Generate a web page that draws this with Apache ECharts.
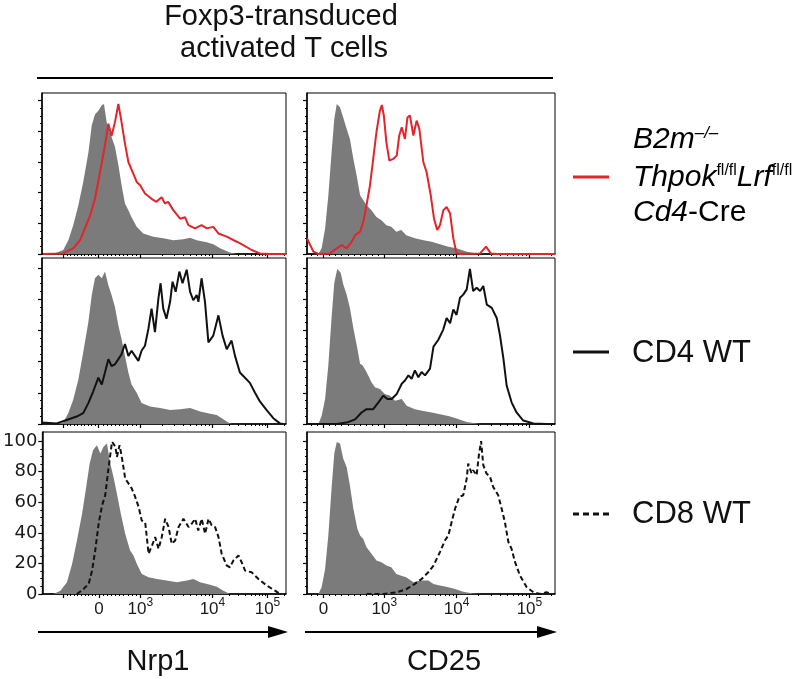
<!DOCTYPE html>
<html><head><meta charset="utf-8">
<script src="https://cdn.jsdelivr.net/npm/echarts@6/dist/echarts.min.js"></script>
<style>html,body{margin:0;padding:0;background:#fff}#c{width:800px;height:679px}</style>
</head><body><div id="c"></div>
<script>
// x = position along the logicle display axis (% of axis width), y = % of max
const nrp1IsoA = [[4.6,0],[8.7,2.6],[10.8,9],[12.8,18.8],[14.9,31.8],[16.9,47],[19,66],[20.4,84],[21.7,91],[23.1,93.5],[24.5,97],[25.4,97.8],[26.5,86],[27.9,79],[29.9,70],[31.3,58],[32.6,45],[34,33],[35.4,28.6],[36.7,24],[38.8,17.7],[41.5,13.4],[45.6,11.3],[49.7,10.2],[53.8,9],[57.9,9.7],[60.7,10.6],[63.4,9],[67.5,7.6],[70.2,6.3],[73,3.7],[77,0.9],[79.8,0]];
const nrp1Dko = [[0.5,0],[8.7,0.4],[12.8,3.7],[15.6,9],[17.6,16.7],[19.7,25],[21.7,36],[23.8,53.5],[25.8,70.8],[27.2,85],[28.5,77],[29.9,86],[31.3,97.8],[32.6,86],[34,72],[35.4,60],[37.4,52.4],[38.8,47],[40.2,44.8],[42.2,39.4],[44.9,36],[46.9,34],[49,37],[50.4,33],[51.7,34],[53.8,28.6],[56.6,23],[58.6,24],[60,18.8],[62.7,16.7],[65.4,18.8],[67.5,16.7],[70.2,17.7],[72.3,13.4],[75.7,11.3],[79.8,8],[82.5,5.8],[85.9,2.6],[89.3,0.4],[93.4,0],[100,0]];
const cd25IsoA = [[4.6,0],[5.9,3.7],[7.3,16.7],[8.6,38],[9.9,66],[11,88],[12,97.8],[13.3,95.7],[14.6,89],[16,81.6],[17.3,75],[18.7,62],[20,51.3],[21.4,38.3],[22.7,35],[24,31.8],[26,28.6],[28,24.2],[30,22],[32,18.8],[34,17.7],[36,14.5],[38,15.6],[40,12.3],[43.5,10.2],[47,9],[50.3,8],[53.6,6.3],[57,4.8],[60.3,3.7],[64.4,1.5],[68.4,0.4],[72.4,0]];
const cd25Dko = [[0,10.2],[0.8,9.7],[2.6,1.5],[4.6,0],[9.3,0.4],[12,3.7],[14,5.8],[16,3.7],[18,8],[19.4,12.3],[21.4,14.5],[22.7,21],[24,31.8],[25.4,44.8],[26.7,62],[28,79.4],[29.4,93.5],[30.2,97.2],[31,90],[32,73],[33.2,61],[34.8,62],[36.2,64.3],[37.2,77.3],[38.2,82.7],[39.5,75],[40.5,89],[41.5,90.3],[42.9,77.3],[44.2,87],[45.3,81.6],[46.9,60],[48.2,53.5],[49.9,38.3],[51.2,23.2],[52.5,15.6],[53.6,18.8],[55,28.6],[56.3,30.7],[57.7,26.4],[59,10.2],[60.3,0.4],[61.7,0],[69.8,0.4],[72.2,4.8],[74.1,0.4],[76.5,0],[100,0]];
const nrp1IsoB = [[6,0],[8.7,0.9],[10.8,7],[12.8,15.6],[14.9,28.6],[16.9,46],[19,65.4],[20.4,82.7],[21.7,93.5],[23.1,95.7],[24.5,93.5],[25.8,97.8],[27.2,89],[28.5,82.7],[29.9,75],[31.3,63.2],[32.6,54.5],[34,43.7],[35.4,33],[36.7,25.3],[38.8,20],[40.8,13.4],[44.3,11.3],[48.4,10.2],[52.5,9],[56.6,9.5],[60.7,10.2],[64.8,8],[68.9,6.5],[71.6,5.8],[74.3,3],[77,0.4],[78.4,0]];
const nrp1Cd4 = [[0,0.9],[6,0.4],[10.1,2.6],[14.2,4.8],[16.9,7],[19,13.4],[21,21],[23.1,29.7],[24.5,25.3],[25.8,33],[27.2,41.6],[28.5,37.2],[29.9,38.3],[31.3,41.6],[32.6,44.8],[34,51.3],[35.4,43.7],[36.7,47],[38.1,43.7],[39.5,40.5],[40.8,47],[42.2,50.2],[43.6,61],[44.9,74],[46.3,58.9],[47.7,80.5],[48.6,90.3],[49.7,74],[51,67.5],[52.5,78.4],[53.5,91.3],[54.8,84.8],[56.3,97.8],[57.6,90.3],[59.3,99],[60.7,84.8],[62,79.4],[63.4,82.7],[64.1,78.4],[65.4,93.5],[66.8,78.4],[68.2,52.4],[70.2,56.7],[72.3,69.7],[74,56.7],[75.7,48],[77.7,53.5],[79.1,43.7],[81.1,33],[83.2,29.7],[85.2,26.4],[87.3,20],[89.3,14.5],[92,9],[94.8,3.7],[97.5,0.4],[98.9,0]];
const cd25IsoB = [[4.6,0],[5.9,5.2],[7.3,16],[8.6,37.7],[9.9,68],[11,90.7],[12.2,99.5],[13.6,97],[14.6,89.6],[16,83],[17.3,74.5],[18.7,61.5],[20.3,48.5],[21.4,38.7],[22.4,37.7],[24,33.3],[26,26.8],[27.4,23.6],[29.4,22.5],[31.4,19.3],[33.5,18.2],[35.5,14.9],[38.2,16],[40.2,11.7],[43.5,9.5],[46.9,8.4],[50.3,7.4],[53.6,6.3],[57,5.2],[60.3,3.5],[64.4,1.3],[69.8,0]];
const cd25Cd4 = [[0,0],[12,0],[16,0.9],[19.4,3],[22,7.4],[24,9.5],[26.7,9.5],[28.8,13.9],[30.8,18.2],[32.4,16],[34.1,16],[36.2,19.3],[38.2,25.8],[39.5,27.9],[40.9,31.2],[42.2,29],[43.5,34.4],[44.9,30],[46.2,33.3],[47.6,31.2],[49.6,35.5],[51,49.6],[52.9,53.9],[54.9,60.4],[56.3,68],[57.7,64.7],[59,73.4],[60.3,70],[61.7,81],[63,83],[64.4,86.4],[65.7,99.5],[67,85.3],[68.4,87.4],[69.8,85.3],[71.1,88.5],[72.5,76.6],[74.5,74.5],[76.5,68],[77.8,57],[79.2,42],[80.5,24.7],[82.5,13.9],[84.5,7.4],[87.2,2.2],[91.3,0.4],[96.6,0],[100,0]];
const nrp1IsoC = [[4.6,0],[7.4,2.2],[10.1,7.7],[12.2,19.7],[14.2,35],[16.3,52.5],[18,70],[19.4,85.3],[20.8,94],[22.4,97.4],[23.8,92],[25.1,96.3],[26.5,98.5],[27.9,85.3],[29.2,76.6],[30.6,65.6],[32.2,52.5],[34,39.4],[36,28.4],[37.4,25.2],[38.8,19.7],[40.8,13.1],[43.6,11],[47,9.8],[51,8.8],[55.2,7.7],[59.3,8.8],[62,9.8],[64.7,7.7],[68.8,6.1],[71.6,4.8],[74.3,2.2],[77,0]];
const nrp1Cd8 = [[14.2,0],[16.9,3.3],[19,6.6],[20.4,15.3],[21.7,28.4],[23.1,46],[24.5,58],[25.8,64.6],[27.2,83],[28.6,99.6],[30,96.3],[30.6,89.7],[31.7,97.4],[32.6,89.7],[34,75.5],[35.4,72.2],[36.7,69],[38.1,63.5],[39.5,57],[40.8,48],[42.2,47],[43.6,26.3],[45,31.7],[46.3,37.2],[47.7,29.5],[49,37.2],[50.4,49.2],[51.8,43.8],[53.1,32.8],[54.5,35],[55.9,43.8],[57.9,49.2],[60,43.8],[61.3,46],[62.7,49.2],[64,41.6],[65.4,49.2],[66.8,39.4],[68.2,49.2],[69.5,44.9],[70.9,43.8],[72.3,37.2],[73.6,26.3],[75.7,18.6],[77,17.5],[78.4,21.9],[80.5,25.2],[81.8,20.8],[83.2,15.3],[85.9,14.2],[88.7,9.8],[92.1,5.5],[95.5,2.2],[97.5,0]];
const cd25IsoC = [[4.6,0],[5.9,4.4],[7.3,16.4],[8.6,38.3],[9.9,69],[11,92],[12,99.5],[13.3,98.5],[14.6,88.6],[16,83],[17.3,71],[18.7,55.8],[20.3,42.7],[21.4,38.3],[22.7,36],[24,30.6],[26,26.3],[28,21.9],[30,20.8],[32,18.6],[34,17.5],[36,13.1],[38,12],[40,11],[42.9,7.7],[45.6,8.8],[48.9,8.8],[51,6.6],[53.6,5.5],[57,4.4],[59.7,3.3],[63,1.5],[67,0.4],[70.4,0]];
const cd25Cd8 = [[24,0],[30.8,0],[36.2,1.1],[40.2,3.3],[43.5,6.6],[46.2,9.8],[48.9,14.2],[51,18.6],[53.6,27.4],[55.6,35],[57,38.3],[58.3,47],[59.7,55.8],[61.4,63.5],[63,64.6],[64.4,75.5],[65,85.3],[66.4,78.8],[67,81],[68.4,77.7],[69.3,90.8],[70.2,100],[71.1,84.2],[72.4,78.8],[73.8,76.6],[75.1,70],[77.1,64.6],[78.5,55.8],[79.8,47],[81.2,34],[82.5,29.5],[83.9,20.8],[85.9,12],[88.6,4.4],[91.3,1.1],[94,0],[96.6,1.1],[98.6,0]];

// axis tick values (fluorescence units) and labels
const xMajorValues = [-1000, 0, 1000, 10000, 100000];
const xLabelValues = [0, 1000, 10000, 100000];
const xLabelTexts = [['0',''], ['10','3'], ['10','4'], ['10','5']];
const xMinorValues = [-900,-800,-700,-600,-500,-400,-300,-200,-100,100,200,300,400,500,600,700,800,900,2000,3000,4000,5000,6000,7000,8000,9000,20000,30000,40000,50000,60000,70000,80000,90000,200000];
const yMajorValues = [0, 20, 40, 60, 80, 100];
const yMinorValues = [5,10,15,25,30,35,45,50,55,65,70,75,85,90,95];

// layout
const GRID_LEFT = [42, 307], GRID_W = [244, 248];
const ROW_TOP = [93, 258, 432], ROW_H = [161, 166, 162], Y_MAX = [105, 106.5, 106];
// logicle display anchors (% of axis) for each column
const ANCH = [
  {neg: 8.7, zero: 23.2, k1: 40.2, k10: 69.8, k100: 92.4},
  {neg: -18, zero: 6.6, k1: 31.2, k10: 60.3, k100: 89.7}
];
function disp(v, a) {
  if (v <= 0) return a.zero + (v / 1000) * (a.zero - a.neg);
  if (v <= 1000) return a.zero + (v / 1000) * (a.k1 - a.zero);
  if (v <= 10000) return a.k1 + Math.log10(v / 1000) * (a.k10 - a.k1);
  return a.k10 + Math.log10(v / 10000) * (a.k100 - a.k10);
}
const inRange = p => p >= 0 && p <= 100;

const RED = '#e3242b', BLACK = '#111', GRAY = '#7b7b7b';
const panels = [
  {row:0, col:0, iso:nrp1IsoA, sample:nrp1Dko, color:RED, dash:'solid'},
  {row:0, col:1, iso:cd25IsoA, sample:cd25Dko, color:RED, dash:'solid'},
  {row:1, col:0, iso:nrp1IsoB, sample:nrp1Cd4, color:BLACK, dash:'solid'},
  {row:1, col:1, iso:cd25IsoB, sample:cd25Cd4, color:BLACK, dash:'solid'},
  {row:2, col:0, iso:nrp1IsoC, sample:nrp1Cd8, color:BLACK, dash:[5,3]},
  {row:2, col:1, iso:cd25IsoC, sample:cd25Cd8, color:BLACK, dash:[5,3]}
];

const grid = [], xAxis = [], yAxis = [], series = [];
panels.forEach((p, i) => {
  const a = ANCH[p.col];
  const major = xMajorValues.map(v => disp(v, a)).filter(inRange);
  const minor = xMinorValues.map(v => disp(v, a)).filter(inRange);
  const labPos = xLabelValues.map(v => disp(v, a));
  grid.push({left: GRID_LEFT[p.col], top: ROW_TOP[p.row], width: GRID_W[p.col], height: ROW_H[p.row],
    show: true, borderColor: '#000', borderWidth: 1, backgroundColor: 'transparent'});
  xAxis.push({type:'value', gridIndex:i, min:0, max:100, position:'bottom',
    axisLine:{show:true, onZero:false, lineStyle:{color:'#000', width:1.5}},
    axisTick:{show:true, length:4, customValues: major, lineStyle:{color:'#000', width:1.2}},
    axisLabel:{show: p.row === 2, customValues: labPos, margin: 3,
      formatter: function (val) {
        const k = labPos.findIndex(q => Math.abs(q - val) < 1e-6);
        if (k < 0) return '';
        const t = xLabelTexts[k];
        return t[1] ? '{b|' + t[0] + '}{s|' + t[1] + '}' : '{b|' + t[0] + '}';
      },
      rich: {
        b: {fontFamily:'Liberation Sans', fontSize:17, lineHeight:21, verticalAlign:'bottom', color:'#1a1a1a'},
        s: {fontFamily:'Liberation Sans', fontSize:12, lineHeight:13, verticalAlign:'top', color:'#1a1a1a'}
      }},
    splitLine:{show:false}});
  xAxis.push({type:'value', gridIndex:i, min:0, max:100, position:'bottom', offset:0,
    axisLine:{show:false}, axisLabel:{show:false}, splitLine:{show:false},
    axisTick:{show:true, length:2, customValues: minor, lineStyle:{color:'#000', width:1}}});
  const showY = p.row === 2 && p.col === 0;
  yAxis.push({type:'value', gridIndex:i, min:0, max:Y_MAX[p.row], position:'left',
    axisLine:{show:true, onZero:false, lineStyle:{color:'#000', width:1.5}},
    axisTick:{show:true, length:4, customValues: yMajorValues, lineStyle:{color:'#000', width:1.2}},
    axisLabel:{show: showY, customValues: yMajorValues, margin: 5, fontFamily:'DejaVu Sans', fontSize:18, color:'#1a1a1a'},
    splitLine:{show:false}});
  yAxis.push({type:'value', gridIndex:i, min:0, max:Y_MAX[p.row], position:'left', offset:0,
    axisLine:{show:false}, axisLabel:{show:false}, splitLine:{show:false},
    axisTick:{show:true, length:2, customValues: yMinorValues, lineStyle:{color:'#000', width:1}}});
  series.push({type:'line', xAxisIndex:2*i, yAxisIndex:2*i, data:p.iso, symbol:'none', silent:true,
    lineStyle:{width:0}, areaStyle:{color:GRAY, opacity:1}, z:2});
  series.push({type:'line', xAxisIndex:2*i, yAxisIndex:2*i, data:p.sample, symbol:'none', silent:true,
    lineStyle:{color:p.color, width:2, type:p.dash}, z:3});
});

const F = 'Liberation Sans';
const legRich = {
  i: {fontFamily:F, fontStyle:'italic', fontSize:30, lineHeight:30, verticalAlign:'bottom', color:'#111'},
  n: {fontFamily:F, fontSize:30, lineHeight:30, verticalAlign:'bottom', color:'#111'},
  s: {fontFamily:F, fontSize:16, lineHeight:18, verticalAlign:'top', color:'#111'},
  si: {fontFamily:F, fontStyle:'italic', fontSize:17, lineHeight:18, verticalAlign:'top', color:'#111'}
};
const graphic = [
  {type:'text', x:281, y:17, style:{text:'Foxp3-transduced', font:'29px "Liberation Sans"', fill:'#111', align:'center', verticalAlign:'middle'}},
  {type:'text', x:284, y:49, style:{text:'activated T cells', font:'29px "Liberation Sans"', fill:'#111', align:'center', verticalAlign:'middle'}},
  {type:'line', shape:{x1:37, y1:78, x2:553, y2:78}, style:{stroke:'#000', lineWidth:2}},
  {type:'line', shape:{x1:38, y1:632, x2:272, y2:632}, style:{stroke:'#000', lineWidth:2}},
  {type:'polygon', shape:{points:[[268,626],[288,632],[268,638]]}, style:{fill:'#000'}},
  {type:'line', shape:{x1:305, y1:632, x2:540, y2:632}, style:{stroke:'#000', lineWidth:2}},
  {type:'polygon', shape:{points:[[537,626],[557,632],[537,638]]}, style:{fill:'#000'}},
  {type:'text', x:158, y:662, style:{text:'Nrp1', font:'29px "Liberation Sans"', fill:'#111', align:'center', verticalAlign:'middle'}},
  {type:'text', x:444, y:662, style:{text:'CD25', font:'29px "Liberation Sans"', fill:'#111', align:'center', verticalAlign:'middle'}},
  {type:'line', shape:{x1:573, y1:177, x2:609, y2:177}, style:{stroke:RED, lineWidth:3}},
  {type:'text', x:633, y:140, style:{text:'{i|B2m}{si|–/–}', rich:legRich, verticalAlign:'middle'}},
  {type:'text', x:633, y:178, style:{text:'{i|Thpok}{s|fl/fl}{i|Lrf}{s|fl/fl}', rich:legRich, verticalAlign:'middle'}},
  {type:'text', x:633, y:213, style:{text:'{i|Cd4}{n|-Cre}', rich:legRich, verticalAlign:'middle'}},
  {type:'line', shape:{x1:573, y1:352, x2:609, y2:352}, style:{stroke:BLACK, lineWidth:3}},
  {type:'text', x:632, y:353, style:{text:'CD4 WT', font:'31px "Liberation Sans"', fill:'#111', verticalAlign:'middle'}},
  {type:'line', shape:{x1:573, y1:514, x2:609, y2:514}, style:{stroke:BLACK, lineWidth:3, lineDash:[6,4]}},
  {type:'text', x:632, y:514, style:{text:'CD8 WT', font:'31px "Liberation Sans"', fill:'#111', verticalAlign:'middle'}}
];

const chart = echarts.init(document.getElementById('c'), null, {renderer:'canvas'});
chart.setOption({animation:false, backgroundColor:'#fff', grid, xAxis, yAxis, series, graphic});
</script>
</body></html>
